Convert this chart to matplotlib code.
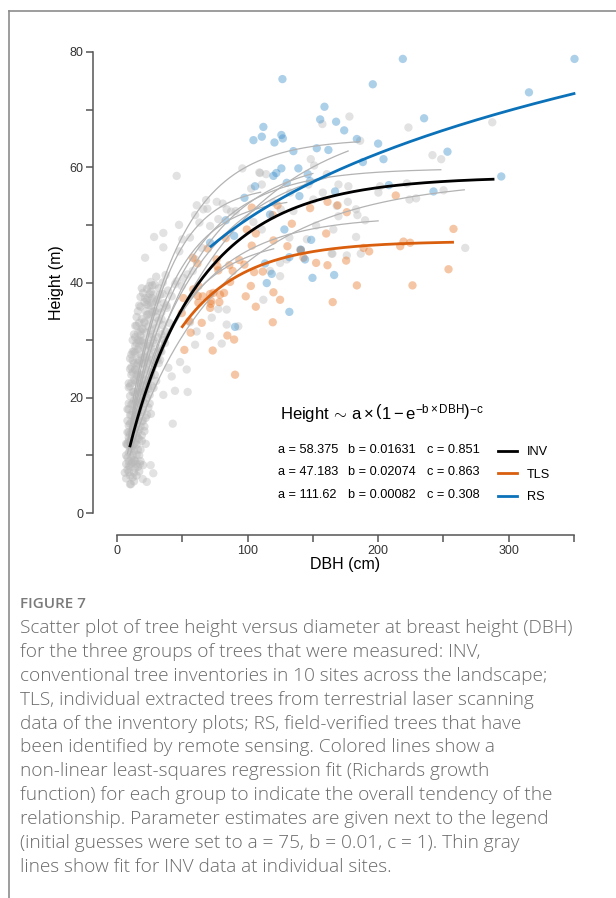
import matplotlib
matplotlib.use('Agg')
import matplotlib.pyplot as plt
import numpy as np
from matplotlib.lines import Line2D

plt.rcParams['font.family'] = ['Liberation Sans', 'DejaVu Sans']
plt.rcParams['mathtext.fontset'] = 'custom'
plt.rcParams['mathtext.rm'] = 'Liberation Sans'
plt.rcParams['mathtext.it'] = 'Liberation Sans'

# --- INV trees, scattered points (DBH cm, height m)
inv_dbh = [45.7, 96, 157.3, 178, 21.5, 35.5, 28.4, 35.5, 47.5, 50, 61.1, 68.2, 76.4, 81, 59.8, 63.1,
           69.2, 84, 90.9, 71.3, 55.9, 37.2, 25.8, 24, 45.7, 53.9, 109.6, 114.2, 148.4, 151, 160.7,
           169.6, 177.2, 176.8, 183.1, 183.1, 165, 140.2, 124.9, 132, 110.9, 102.7, 119.8, 125.4,
           104.5, 110.9, 135.1, 150.4, 165.7,
           223.2, 287.4, 186.2, 241.6, 248.3, 200.2, 201.5, 222, 250.1, 224, 229.1, 184.1, 190,
           186.7, 266.7,
           109, 66.1, 77.6, 87.4, 47.7, 44.4, 50.8, 84, 77.6, 72.6, 84, 92.9, 112.1, 130, 117.2,
           124.9, 145.4, 164.4, 132.6, 146.6, 157.6, 168.3, 169.6, 152.5, 176,
           42.7, 54.1, 44.4, 35.5, 53.4, 48.3, 39.3, 41.9, 59.8, 71.3, 80.2, 61, 55.9, 49.6, 41.9,
           38.1, 34.2, 36.8, 33, 33, 25.8, 27.8, 19.7, 22.8, 10.7, 17.6, 24.8, 21.5, 22.8, 27.8,
           26.6, 17.1, 15.6, 13.8, 60, 65, 58]
inv_h = [58.5, 59.8, 67.5, 68.8, 44.3, 48.6, 47.9, 46.1, 50.0, 47.5, 53.4, 54.3, 54.0, 53.7, 51.7, 50.4,
         52.8, 52.7, 52.4, 49.8, 47.8, 41.3, 40.1, 37.4, 40.2, 41.4, 59.0, 58.8, 61.4, 60.3, 58.8,
         57.0, 56.7, 54.0, 52.7, 47.9, 45.0, 45.7, 41.1, 47.8, 57.0, 56.3, 53.9, 52.7,
         50.5, 49.2, 52.4, 54.4, 49.2,
         66.9, 67.8, 64.6, 62.1, 61.4, 55.6, 56.7, 57.2, 56.0, 54.4, 54.6, 51.7, 50.8,
         45.0, 46.0,
         59.1, 52.7, 51.0, 52.3, 45.4, 39.7, 40.8, 35.3, 35.4, 33.9, 32.7, 32.4, 37.0, 44.0, 42.0,
         43.4, 47.5, 45.0, 55.6, 57.0, 55.6, 53.3, 51.5, 49.9, 44.7,
         15.5, 21.0, 21.2, 20.5, 24.9, 26.2, 25.2, 23.7, 29.2, 30.7, 29.4, 31.5, 33.1, 39.4, 37.6,
         35.6, 33.6, 29.5, 28.1, 26.6, 8.3, 6.9, 5.9, 5.4, 5.0, 8.5, 39.4, 37.3, 36.2, 37.9,
         36.5, 29.9, 26.6, 24.9, 44.0, 46.0, 42.0]

# --- INV trees, dense cluster of small trees
blob_dbh = [10, 12, 9, 14, 11, 16, 13, 8, 18, 15, 10, 12, 20, 17, 9,
            9, 11, 13, 15, 10, 12, 14, 17, 19, 8, 11, 13, 16, 21, 10, 12, 18, 9, 15, 22,
            9, 11, 13, 15, 17, 19, 10, 12, 14, 16, 18, 20, 22, 11, 13, 15, 24, 9, 17, 21, 26, 12,
            10, 12, 14, 16, 18, 20, 22, 11, 13, 15, 17, 19, 21, 24, 26, 28, 12, 14, 16, 23, 30, 9, 25,
            11, 13, 15, 17, 19, 21, 23, 25, 27, 14, 16, 18, 20, 22, 24, 26, 29, 31, 12, 15, 18, 33, 28, 10,
            14, 16, 18, 20, 22, 24, 26, 28, 30, 17, 19, 21, 23, 25, 27, 32, 35, 15, 29, 34, 37,
            18, 21, 24, 27, 30, 33, 36, 20, 23, 26, 29, 32, 35, 39,
            7, 8, 9, 10, 11, 12, 13, 14, 15, 16, 7, 8, 9, 10, 11, 12, 13, 14, 15, 16, 8, 9, 10, 11,
            12, 13, 14, 16, 17, 18, 19, 20, 21, 18, 19, 20, 22, 23, 24, 25, 26, 27, 28, 17, 18, 19,
            20, 21, 22, 23, 24, 14, 15, 16, 17, 13, 12, 11, 10, 9, 8, 7, 16, 18, 20, 6, 7, 8, 9, 10,
            11, 12, 13, 14, 15, 16, 17, 18, 19, 22, 24, 26, 28, 30, 31, 33, 35, 38, 40, 36, 34, 31,
            29, 27, 32, 34, 25, 23, 21, 19, 17, 15, 13, 19, 21, 23, 25, 27, 30]
blob_h = [5.0, 6.2, 7.1, 7.8, 8.5, 8.0, 9.2, 9.6, 9.0, 10.1, 6.5, 8.8, 8.3, 7.2, 8.2,
          10.5, 11.2, 10.8, 11.9, 12.4, 13.0, 12.2, 12.8, 13.5, 11.8, 14.1, 14.6, 14.0, 14.2, 13.6, 11.7, 11.0, 13.1, 13.4, 12.0,
          15.2, 15.8, 16.3, 15.5, 16.8, 15.9, 17.0, 17.6, 18.2, 17.4, 18.8, 17.9, 16.5, 18.9, 19.5, 19.2, 18.3, 18.0, 19.8, 19.0, 17.2, 15.0,
          20.3, 21.0, 20.6, 21.4, 20.9, 22.1, 21.3, 22.5, 23.1, 22.7, 23.6, 24.0, 23.2, 22.6, 23.8, 21.7, 24.4, 24.9, 24.3, 24.7, 22.9, 21.8, 20.5,
          25.3, 26.0, 25.6, 26.4, 25.9, 27.0, 26.3, 27.5, 26.6, 27.8, 28.4, 27.6, 28.9, 28.2, 29.3, 28.7, 27.9, 26.8, 28.0, 29.5, 29.9, 28.5, 30.0, 26.8,
          30.5, 31.2, 30.8, 31.9, 31.3, 32.4, 31.7, 32.9, 32.1, 33.0, 33.7, 33.2, 34.4, 33.8, 34.9, 33.4, 32.6, 32.5, 35.0, 34.8, 31.5,
          35.8, 36.6, 36.1, 37.3, 36.7, 37.9, 36.4, 38.2, 38.9, 38.4, 39.6, 39.0, 40.0, 38.6,
          6, 7.5, 9, 8, 9.5, 10, 7, 9, 8.5, 11, 10, 12, 14, 15.5, 17, 19, 21, 23, 24, 26, 16, 19, 22, 24,
          26.5, 28, 29, 30, 29, 31.5, 32, 30, 29.5, 24, 22, 26, 25, 27, 26, 29, 30.5, 31, 29.5, 21, 22.5, 17.5,
          19.5, 21, 23, 20, 21.5, 16, 17, 19.5, 14.5, 12, 14.5, 12.5, 11, 12.5, 14, 8.5, 13, 15, 16, 7, 12, 18, 22.5, 25,
          27.5, 30, 31, 32.5, 34, 35, 36, 37.5, 39, 35, 34.5, 36, 35, 34, 37, 35.5, 38, 36, 33, 30, 31, 30.5,
          24, 22, 26, 28, 19, 17, 15, 12.5, 10, 6.5, 5.5, 27, 33, 37, 38, 39.5, 41]

# --- TLS trees
tls_dbh = [103.2, 122.9, 119.3, 147.9, 161.2, 168.9, 176, 99.4, 83.3, 106.3, 133.9, 119.8, 103.2, 69.5,
           58, 61.6, 76.3, 76.9, 93.7, 97.6, 105, 111.6, 130.5, 140.8, 142.8, 152.5, 161.2, 160.2,
           175.5, 183.7, 88.6, 62.3, 65.7, 71.3, 82, 78.4, 98.6, 106.3, 102.5, 124.9, 119.8,
           49.6, 55.4, 64.9, 73.8, 78.9, 72, 86.6, 119.3, 165.2, 71.3, 77.6, 86, 58.4, 62.3, 50.8,
           51.6, 73.3, 90.4, 84.5, 89.7, 56.4, 71.8, 61.8,
           213.5, 257.7, 219.4, 224.5, 216.9, 188.8, 193.1, 253.9, 226.3]
tls_h = [53.0, 53.4, 51.7, 52.9, 54.0, 53.4, 52.2, 49.2, 47.7, 48.5, 50.2, 47.3, 46.4, 45.9,
         44.3, 43.3, 44.0, 42.8, 43.9, 43.1, 41.8, 41.9, 46.3, 45.6, 44.3, 43.4, 43.0, 48.5,
         43.8, 39.5, 42.0, 39.4, 37.6, 38.0, 38.2, 36.6, 37.6, 35.8, 39.4, 37.0, 38.3,
         34.7, 33.3, 33.0, 38.2, 37.9, 36.8, 40.1, 33.1, 36.6, 35.6, 42.1, 43.0, 38.8, 36.5, 37.3,
         28.3, 28.2, 24.0, 30.8, 30.1, 31.3, 36.3, 37.7,
         55.1, 49.3, 47.1, 46.9, 46.3, 46.0, 45.4, 42.3, 39.5]

# --- RS trees
rs_dbh = [126.7, 158.9, 155.6, 167.8, 174, 183.7, 112.1, 110.9, 104.5, 125.9, 127, 120.6, 135.1, 153,
          161.9, 119.8, 125.9, 122, 138.9, 130, 146.1, 147.9, 105.7, 97.6, 139.7, 167, 83.3, 89.7,
          117.2, 128.2, 148.7, 132, 149.7, 166.3, 118.5, 113.4, 71.3,
          218.9, 350.4, 195.9, 315.5, 235.2, 200, 253.1, 204.1, 188.3, 294.3, 208.2, 242.4,
          90.4, 114.7, 132, 140.8, 144]
rs_h = [75.3, 70.5, 68.3, 67.9, 66.4, 64.9, 67.0, 65.3, 64.7, 65.6, 65.0, 64.3, 62.8, 63.3,
        63.0, 58.5, 59.8, 59.0, 59.8, 57.3, 58.8, 57.6, 56.7, 54.7, 55.0, 55.8, 50.8, 48.1,
        51.8, 49.2, 47.4, 44.4, 40.8, 41.3, 41.5, 43.3, 46.9,
        78.8, 78.8, 74.4, 73.0, 68.5, 64.1, 62.7, 61.4, 60.9, 58.4, 56.9, 55.8,
        32.3, 39.9, 34.9, 45.7, 44.0]

# --- Richards fits per group: a, b, c and DBH range of the curve
groups = ['INV', 'TLS', 'RS']
fit_a = [58.375, 47.183, 111.62]
fit_b = [0.01631, 0.02074, 0.00082]
fit_c = [0.851, 0.863, 0.308]
fit_lo = [10, 50, 72]
fit_hi = [288, 257, 350]
fit_colors = ['black', '#d95f0e', '#0b72b9']

# --- fits for INV data at individual sites (a, b, c, DBH range)
site_a = [65, 70, 62, 59.8, 58, 51.5, 55, 48, 62, 57]
site_b = [0.025, 0.012, 0.016, 0.022, 0.012, 0.02, 0.03, 0.025, 0.02, 0.035]
site_c = [0.9, 0.85, 0.8, 0.9, 0.8, 0.85, 1.0, 0.9, 1.0, 1.1]
site_lo = [12, 15, 12, 10, 10, 10, 8, 8, 10, 8]
site_hi = [186, 177, 160, 248, 266, 200, 130, 120, 150, 110]


def richards(dbh, a, b, c):
    return a * (1 - np.exp(-b * dbh)) ** c


W, H = 616, 898
fig = plt.figure(figsize=(W / 100, H / 100), dpi=100)
ax = fig.add_axes([117 / W, (H - 513) / H, 457 / W, 461 / H])

dot = dict(s=36, edgecolors='none', clip_on=False)
ax.scatter(blob_dbh, blob_h, color='#b8b8b8', alpha=0.45, **dot)
ax.scatter(inv_dbh, inv_h, color='#b8b8b8', alpha=0.4, **dot)

for a, b, c, lo, hi in zip(site_a, site_b, site_c, site_lo, site_hi):
    x = np.linspace(lo, hi, 200)
    ax.plot(x, richards(x, a, b, c), color='#b3b3b3', lw=0.9)

ax.scatter(tls_dbh, tls_h, color='#e8782a', alpha=0.42, **dot)
ax.scatter(rs_dbh, rs_h, color='#3d8fcc', alpha=0.42, **dot)

for a, b, c, lo, hi, col in zip(fit_a, fit_b, fit_c, fit_lo, fit_hi, fit_colors):
    x = np.linspace(lo, hi, 300)
    ax.plot(x, richards(x, a, b, c), color=col, lw=2, clip_on=False)

ax.set_xlim(0, 350)
ax.set_ylim(0, 80)
for s in ['top', 'right']:
    ax.spines[s].set_visible(False)
ax.spines['left'].set_position(('outward', 17.3))
ax.spines['bottom'].set_position(('outward', 15.8))
for s in ['left', 'bottom']:
    ax.spines[s].set_color('#555555')
    ax.spines[s].set_linewidth(1.1)
ax.set_xticks([0, 100, 200, 300])
ax.set_xticks([50, 150, 250, 350], minor=True)
ax.set_yticks([0, 20, 40, 60, 80])
ax.set_yticks([10, 30, 50, 70], minor=True)
ax.tick_params(which='both', length=5, width=1.1, color='#555555', labelsize=9,
               labelcolor='#333333', pad=2)
ax.set_xlabel('DBH (cm)', fontsize=11.5, labelpad=0)
ax.set_ylabel('Height (m)', fontsize=11.5, labelpad=4)


def px(x, y):
    return x / W, 1 - y / H


fig.text(*px(280, 414), r'$\mathrm{Height}\,\sim\,\mathrm{a} \times \left(1 - \mathrm{e}^{-\mathrm{b}\times\mathrm{DBH}}\right)^{-\mathrm{c}}$',
         fontsize=12, va='center', ha='left')
rows_y = [450, 472, 495]
for i in range(3):
    fig.text(*px(278, rows_y[i]), 'a = %s' % ('%g' % fit_a[i]), fontsize=9.2, va='center')
    fig.text(*px(348, rows_y[i]), 'b = %.5f' % fit_b[i], fontsize=9.2, va='center')
    fig.text(*px(427, rows_y[i]), 'c = %.3f' % fit_c[i], fontsize=9.2, va='center')

handles = [Line2D([], [], color=c, lw=2) for c in fit_colors]
fig.legend(handles, groups, loc='upper left', bbox_to_anchor=px(498, 446), frameon=False,
           borderpad=0, borderaxespad=0, handlelength=1.45, handletextpad=0.8,
           labelspacing=0.84, fontsize=9.2)

# frame around figure panel
fig.add_artist(Line2D([9 / W, 1], [1 - 11 / H, 1 - 11 / H], color='#8c8c8c', lw=1.2))
fig.add_artist(Line2D([9 / W, 9 / W], [1 - 11 / H, 0], color='#8c8c8c', lw=1.2))

caption = [
    'Scatter plot of tree height versus diameter at breast height (DBH)',
    'for the three groups of trees that were measured: INV,',
    'conventional tree inventories in 10 sites across the landscape;',
    'TLS, individual extracted trees from terrestrial laser scanning',
    'data of the inventory plots; RS, field-verified trees that have',
    'been identified by remote sensing. Colored lines show a',
    'non-linear least-squares regression fit (Richards growth',
    'function) for each group to indicate the overall tendency of the',
    'relationship. Parameter estimates are given next to the legend',
    '(initial guesses were set to a = 75, b = 0.01, c = 1). Thin gray',
    'lines show fit for INV data at individual sites.',
]
fig.text(*px(20, 604), 'FIGURE 7', fontsize=11, color='#7a7a7a', family=['Open Sans'],
         weight='semibold', va='center')
for i, line in enumerate(caption):
    fig.text(*px(20, 628 + i * 23.9), line, fontsize=13.7, color='#6a6a6a',
             family=['Open Sans', 'DejaVu Sans'], weight='light', va='center')

fig.savefig('out.png', dpi=100)
